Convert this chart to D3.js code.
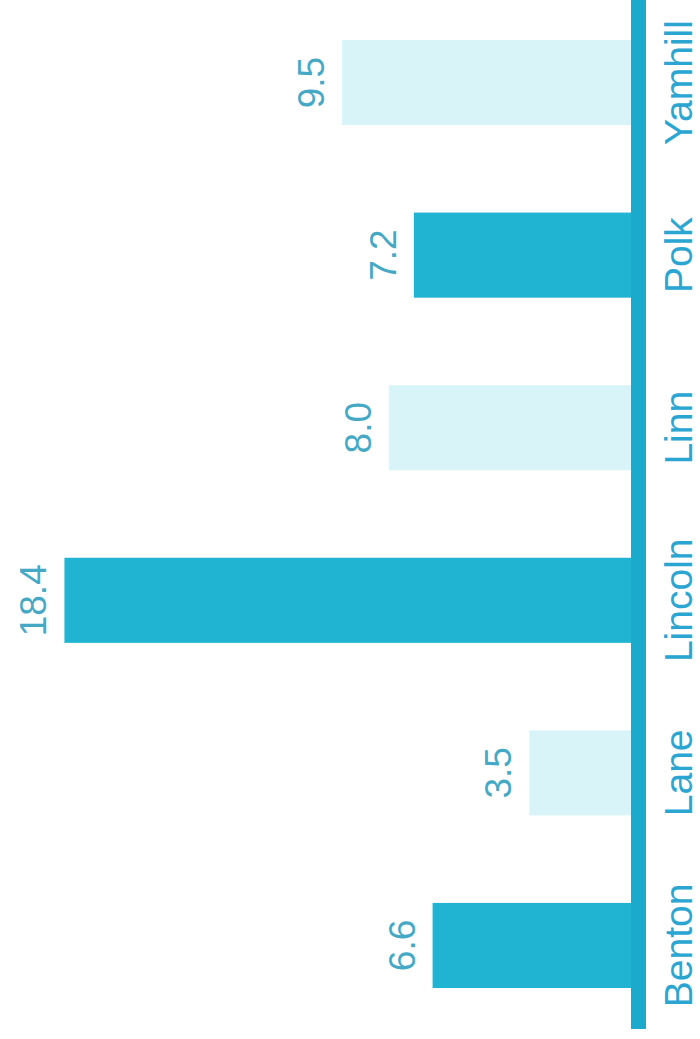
<!DOCTYPE html>
<html>
<head>
<meta charset="utf-8">
<script src="https://cdn.jsdelivr.net/npm/d3@7"></script>
<style>
  html, body { margin: 0; padding: 0; background: #fff; }
  svg { display: block; }
  text { font-family: "Liberation Sans", Arial, Helvetica, sans-serif; }
</style>
</head>
<body>
<svg id="chart" width="700" height="1039"></svg>
<script>
// Counties and their values (bars drawn horizontally, text rotated)
const counties = ["Benton", "Lane", "Lincoln", "Linn", "Polk", "Yamhill"];
const values = [6.6, 3.5, 18.4, 8.0, 7.2, 9.5];
const shades = ["dark", "light", "dark", "light", "dark", "light"];

const data = counties.map((c, i) => ({ county: c, value: values[i], shade: shades[i] }));

const baseX = 638.5;     // axis position (value 0)
const pxPerUnit = 31.2;

const svg = d3.select("#chart");

const y = d3.scaleBand()
  .domain(counties)
  .range([988, 40])
  .paddingInner(0.507)
  .paddingOuter(0);

const x = d3.scaleLinear()
  .domain([0, 20])
  .range([baseX, baseX - 20 * pxPerUnit]);

const fillFor = { dark: "#21b3d2", light: "#d9f4f9" };

// Bars
svg.append("g")
  .selectAll("rect")
  .data(data)
  .join("rect")
  .attr("x", d => x(d.value))
  .attr("y", d => y(d.county))
  .attr("width", d => x(0) - x(d.value))
  .attr("height", y.bandwidth())
  .attr("fill", d => fillFor[d.shade]);

// Axis line
svg.append("line")
  .attr("x1", x(0)).attr("x2", x(0))
  .attr("y1", 0).attr("y2", 1029)
  .attr("stroke", "#1baacc")
  .attr("stroke-width", 15);

// Value labels
svg.append("g")
  .selectAll("text")
  .data(data)
  .join("text")
  .attr("transform", d => `translate(${x(d.value) - 18},${y(d.county) + y.bandwidth() / 2}) rotate(-90)`)
  .attr("text-anchor", "middle")
  .attr("font-size", 37)
  .attr("fill", "#45a9c6")
  .text(d => d.value.toFixed(1));

// Category labels
svg.append("g")
  .selectAll("text")
  .data(data)
  .join("text")
  .attr("transform", d => `translate(692,${y(d.county) + y.bandwidth() / 2}) rotate(-90)`)
  .attr("text-anchor", "middle")
  .attr("font-size", 39)
  .attr("fill", "#2ba6d2")
  .text(d => d.county);
</script>
</body>
</html>
